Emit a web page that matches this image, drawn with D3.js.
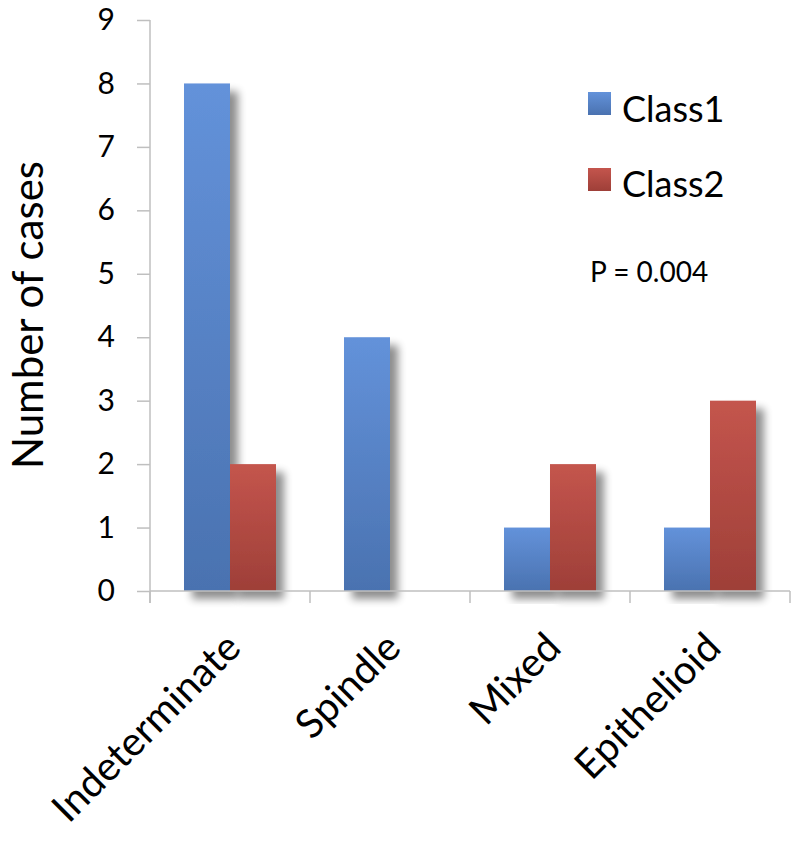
<!DOCTYPE html>
<html><head><meta charset="utf-8">
<script src="https://cdn.jsdelivr.net/npm/d3@7"></script>
<style>body{margin:0;background:#fff}svg{display:block}</style>
</head><body>
<script>
const categories = ["Indeterminate", "Spindle", "Mixed", "Epithelioid"];
const seriesNames = ["Class1", "Class2"];
const class1 = [8, 4, 1, 1];
const class2 = [2, 0, 2, 3];
const yTicks = [0,1,2,3,4,5,6,7,8,9];
const pText = "P = 0.004";

const W = 800, H = 842;
const svg = d3.select("body").append("svg").attr("width", W).attr("height", H);
const font = "Lato, 'Open Sans', sans-serif";

const defs = svg.append("defs");
const gradB = defs.append("linearGradient").attr("id","gB").attr("x1",0).attr("y1",0).attr("x2",0).attr("y2",1);
gradB.append("stop").attr("offset","0%").attr("stop-color","#6392da");
gradB.append("stop").attr("offset","100%").attr("stop-color","#4a72b0");
const gradR = defs.append("linearGradient").attr("id","gR").attr("x1",0).attr("y1",0).attr("x2",0).attr("y2",1);
gradR.append("stop").attr("offset","0%").attr("stop-color","#c4554d");
gradR.append("stop").attr("offset","100%").attr("stop-color","#9e3f38");
const f = defs.append("filter").attr("id","sh").attr("x","-30%").attr("y","-10%").attr("width","180%").attr("height","130%");
f.append("feGaussianBlur").attr("in","SourceAlpha").attr("stdDeviation",4).attr("result","b");
f.append("feOffset").attr("in","b").attr("dx",8).attr("dy",8).attr("result","o");
f.append("feComponentTransfer").attr("in","o").attr("result","o2")
  .append("feFuncA").attr("type","linear").attr("slope",0.45);
const m = f.append("feMerge");
m.append("feMergeNode").attr("in","o2");
m.append("feMergeNode").attr("in","SourceGraphic");

const x0 = d3.scaleBand().domain(categories).range([150, 790]).paddingInner(0).paddingOuter(0);
const x1 = d3.scaleBand().domain(seriesNames).range([34, 126]);
const y = d3.scaleLinear().domain([0, 9]).range([591, 20]);

const data = categories.map((c,i)=>({cat:c, vals:[{s:"Class1",v:class1[i]},{s:"Class2",v:class2[i]}]}));
const fills = {Class1:"url(#gB)", Class2:"url(#gR)"};

const g = svg.append("g");
g.selectAll("g.grp").data(data).join("g").attr("class","grp")
  .attr("transform", d=>`translate(${x0(d.cat)},0)`)
  .selectAll("rect").data(d=>d.vals.filter(v=>v.v>0)).join("rect")
  .attr("x", d=>x1(d.s)).attr("width", x1.bandwidth())
  .attr("y", d=>y(d.v)).attr("height", d=>y(0)-y(d.v))
  .attr("fill", d=>fills[d.s]).attr("filter","url(#sh)");

// y axis
const ya = svg.append("g").attr("transform","translate(150,0)")
  .call(d3.axisLeft(y).tickValues(yTicks).tickSize(13).tickPadding(22).tickFormat(d3.format("d")));
ya.select(".domain").attr("stroke","#bfbfbf").attr("stroke-width",1.5).attr("d","M0,20V603");
ya.selectAll(".tick line").attr("stroke","#bfbfbf").attr("stroke-width",1.5);
ya.selectAll(".tick text").attr("font-family",font).attr("font-size",30).attr("fill","#000");

// x axis
const xa = svg.append("g").attr("transform",`translate(0,${y(0)})`);
xa.append("line").attr("x1",150).attr("x2",790).attr("y1",0).attr("y2",0).attr("stroke","#bfbfbf").attr("stroke-width",1.5);
const bounds = categories.map(c=>x0(c)).concat([x0.range()[1]]);
xa.selectAll("line.tk").data(bounds).join("line").attr("class","tk")
  .attr("x1",d=>d).attr("x2",d=>d).attr("y1",0).attr("y2",12).attr("stroke","#bfbfbf").attr("stroke-width",1.5);
xa.selectAll("text").data(categories).join("text")
  .attr("transform", d=>`translate(${x0(d)+x0.bandwidth()/2+13},${59}) rotate(-45)`)
  .attr("text-anchor","end").attr("font-family",font).attr("font-size",40).attr("fill","#000")
  .text(d=>d);

// y title
svg.append("text").attr("transform","translate(43,315) rotate(-90)")
  .attr("text-anchor","middle").attr("font-family",font).attr("font-size",42).attr("fill","#000")
  .text("Number of cases");

// legend
const lg = svg.append("g");
seriesNames.forEach((s,i)=>{
  lg.append("rect").attr("x",588).attr("y",92+i*76).attr("width",23).attr("height",23).attr("fill",fills[s]);
  lg.append("text").attr("x",622).attr("y",122+i*75).attr("font-family",font).attr("font-size",36).attr("fill","#000").text(s);
});
svg.append("text").attr("x",590).attr("y",282).attr("font-family",font).attr("font-size",28).attr("fill","#000").text(pText);
</script>
</body></html>
